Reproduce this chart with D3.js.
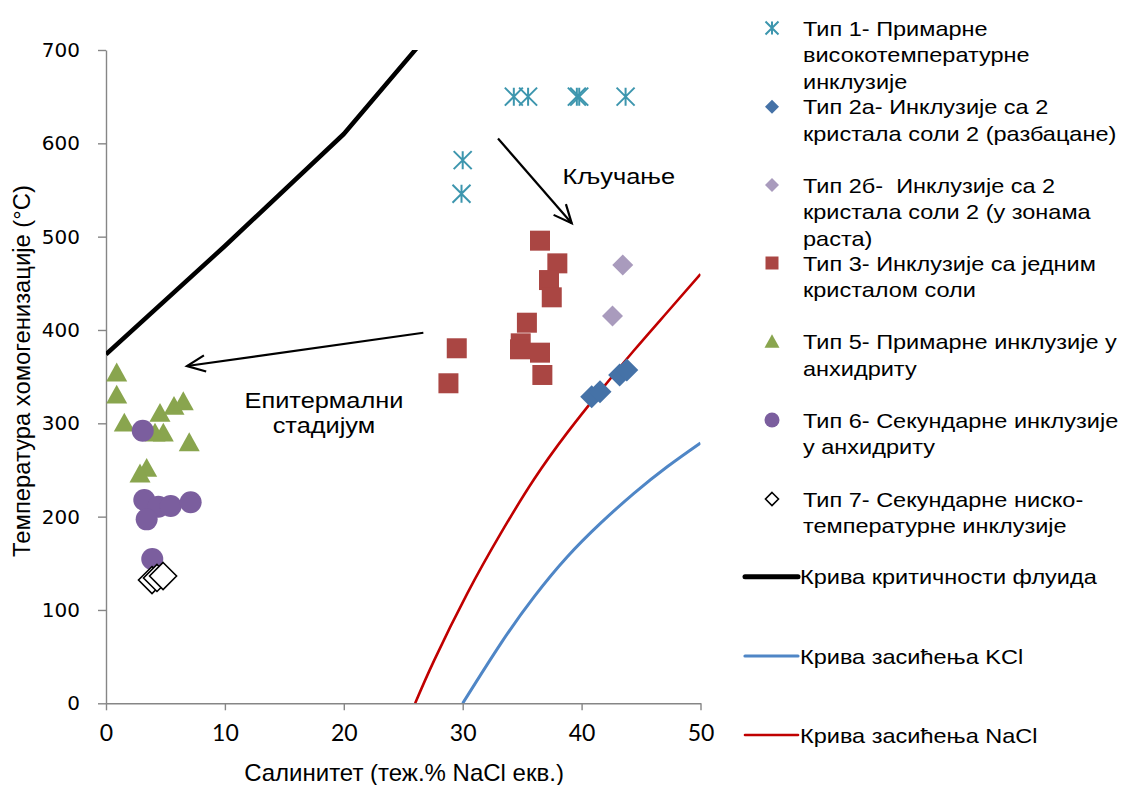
<!DOCTYPE html>
<html><head><meta charset="utf-8">
<script src="https://cdn.jsdelivr.net/npm/d3@7"></script>
<style>body{margin:0;background:#fff}svg{display:block}</style>
</head><body>
<svg id="c" width="1127" height="785"></svg>
<script>
// ---- data ----
const xTicks = [0, 10, 20, 30, 40, 50];
const yTicks = [0, 100, 200, 300, 400, 500, 600, 700];

const type1  = [[34.3,650],[35.5,650],[39.6,650],[39.8,650],[43.7,650],[30.0,582],[29.9,546]];
const type2a = [[40.85,328.5],[41.55,333.9],[43.2,351.8],[43.8,357.1]];
const type2b = [[43.46,469.6],[42.6,415]];
const type3  = [[36.5,495.7],[37.96,471.4],[37.26,453.5],[37.49,435],[35.4,407.8],[34.88,385.7],[34.82,379.3],[36.5,375.7],[36.7,351.8],[29.5,380.4],[28.8,342.9]];
const type5  = [[0.9,353.9],[0.9,330.3],[1.54,300.3],[4.54,310.7],[5.72,318.2],[6.5,323.2],[4.82,289.6],[4.12,289.6],[7.0,279.2],[3.42,251.8],[2.86,245.7]];
const type6  = [[3.09,292.1],[3.22,217.8],[4.4,210.6],[5.44,211.4],[7.12,215.4],[3.42,197.1],[3.89,154.6]];
const type7  = [[3.87,132.1],[4.29,134.3],[4.8,136.4]];

const criticalCurve = [[0,374],[10,490],[20,610],[30,760]];
const kclCurve  = [[30,0],[33.2,64],[36.0,114],[38.8,157],[41.6,193],[44.4,225],[47.2,253.5],[50,279]];
const naclCurve = [[26,0],[27.6,46],[30.4,118],[33.2,182],[36.0,240],[38.8,290],[41.6,335],[44.4,378],[47.2,419],[50,460]];

const xTitle = "Салинитет (теж.% NaCl екв.)";
const yTitle = "Температура хомогенизације (°C)";

const legendItems = [
  {key:"t1", lines:["Тип 1- Примарне","високотемпературне","инклузије"]},
  {key:"t2a", lines:["Тип 2а- Инклузије са 2","кристала соли 2 (разбацане)"]},
  {key:"t2b", lines:["Тип 2б-  Инклузије са 2","кристала соли 2 (у зонама","раста)"]},
  {key:"t3", lines:["Тип 3- Инклузије са једним","кристалом соли"]},
  {key:"t5", lines:["Тип 5- Примарне инклузије у","анхидриту"]},
  {key:"t6", lines:["Тип 6- Секундарне инклузије","у анхидриту"]},
  {key:"t7", lines:["Тип 7- Секундарне ниско-","температурне инклузије"]},
  {key:"crit", lines:["Крива критичности флуида"]},
  {key:"kcl", lines:["Крива засићења KCl"]},
  {key:"nacl", lines:["Крива засићења NaCl"]}
];

// annotations (data units)
const arrowBoil = [[32.97,605.2],[39.17,514.3]];
const arrowEpi  = [[26.69,397],[6.81,361.4]];
const labelBoil = {x:38.4, y:556.4, lines:["Кључање"]};
const labelEpi  = {x:18.33, y:316.3, lines:["Епитермални","стадијум"]};

// ---- styles ----
const C = {
  t1:"#3D96AE", t2a:"#4572A7", t2b:"#A99BBD", t3:"#AA4643",
  t5:"#89A54E", t6:"#7B5E9E", crit:"#000000", kcl:"#4F86C6", nacl:"#C00000", axis:"#868686"
};

const svg = d3.select("#c");
svg.append("rect").attr("width",1127).attr("height",785).attr("fill","#fff");

const x = d3.scaleLinear().domain([0,50]).range([106,700.5]);
const y = d3.scaleLinear().domain([0,700]).range([703.3,50]);

svg.append("clipPath").attr("id","plot").append("rect")
  .attr("x",106).attr("y",50).attr("width",594.5).attr("height",653.3);

// axes
const yAxis = svg.append("g").attr("transform","translate(106,0)")
  .call(d3.axisLeft(y).tickValues(yTicks).tickSize(8).tickSizeOuter(0).tickPadding(18));
yAxis.selectAll("text").attr("font-family","DejaVu Sans").attr("font-size",20).attr("fill","#000");
const xAxis = svg.append("g").attr("transform","translate(0,703.3)")
  .call(d3.axisBottom(x).tickValues(xTicks).tickSize(7).tickSizeOuter(0).tickPadding(14));
xAxis.selectAll("text").attr("font-family","Lato, 'Open Sans'").attr("font-size",23).attr("fill","#000");
svg.selectAll(".domain, .tick line").attr("stroke",C.axis).attr("stroke-width",1.4);

// axis titles
svg.append("text").attr("x",404).attr("y",781).attr("text-anchor","middle")
  .attr("font-family","'Liberation Sans Narrow', 'Liberation Sans'").attr("font-size",24).text(xTitle);
svg.append("text").attr("transform","translate(30,371) rotate(-90)").attr("text-anchor","middle")
  .attr("font-family","'Liberation Sans'").attr("font-size",23.8).text(yTitle);

// curves
const line = d3.line().x(d=>x(d[0])).y(d=>y(d[1]));
const curveLine = d3.line().x(d=>x(d[0])).y(d=>y(d[1])).curve(d3.curveNatural);
const plot = svg.append("g").attr("clip-path","url(#plot)");
plot.append("path").attr("d",line(criticalCurve)).attr("fill","none").attr("stroke",C.crit).attr("stroke-width",4.5).attr("stroke-linejoin","round");
plot.append("path").attr("d",curveLine(kclCurve)).attr("fill","none").attr("stroke",C.kcl).attr("stroke-width",3);
plot.append("path").attr("d",curveLine(naclCurve)).attr("fill","none").attr("stroke",C.nacl).attr("stroke-width",2.6);

// marker generators
function asterisk(s){ const h=s/2;
  return `M0,${-h}L0,${h}M${-h},${-h}L${h},${h}M${-h},${h}L${h},${-h}`; }
function diamond(d){ const h=d/2; return `M0,${-h}L${h},0L0,${h}L${-h},0Z`; }
function square(s){ const h=s/2; return `M${-h},${-h}H${h}V${h}H${-h}Z`; }
function triangle(w){ const h=w*0.9; return `M0,${-h*0.55}L${w/2},${h*0.45}L${-w/2},${h*0.45}Z`; }

const markers = {
  t1:  (g,s)=>g.append("path").attr("d",asterisk(s)).attr("stroke",C.t1).attr("stroke-width",2).attr("fill","none"),
  t2a: (g,s)=>g.append("path").attr("d",diamond(s)).attr("fill",C.t2a),
  t2b: (g,s)=>g.append("path").attr("d",diamond(s)).attr("fill",C.t2b),
  t3:  (g,s)=>g.append("path").attr("d",square(s)).attr("fill",C.t3),
  t5:  (g,s)=>g.append("path").attr("d",triangle(s)).attr("fill",C.t5),
  t6:  (g,s)=>g.append("circle").attr("r",s/2).attr("fill",C.t6),
  t7:  (g,s)=>g.append("path").attr("d",diamond(s)).attr("fill","#fff").attr("stroke","#000").attr("stroke-width",1.6)
};

function drawSeries(data,key,size){
  data.forEach(d=>{
    const g = svg.append("g").attr("transform",`translate(${x(d[0])},${y(d[1])})`);
    markers[key](g,size);
  });
}
drawSeries(type1,"t1",18);
drawSeries(type2b,"t2b",21);
drawSeries(type3,"t3",20);
drawSeries(type5,"t5",21);
drawSeries(type6,"t6",22);
drawSeries(type2a,"t2a",23);
drawSeries(type7,"t7",27);

// annotations
function arrow(pts){
  const [a,b]=pts.map(p=>[x(p[0]),y(p[1])]);
  const ang=Math.atan2(b[1]-a[1],b[0]-a[0]), L=20, sp=0.42;
  svg.append("line").attr("x1",a[0]).attr("y1",a[1]).attr("x2",b[0]).attr("y2",b[1]).attr("stroke","#000").attr("stroke-width",2.2);
  const p1=[b[0]-L*Math.cos(ang-sp), b[1]-L*Math.sin(ang-sp)];
  const p2=[b[0]-L*Math.cos(ang+sp), b[1]-L*Math.sin(ang+sp)];
  svg.append("path").attr("d",`M${p1}L${b}L${p2}`).attr("fill","none").attr("stroke","#000").attr("stroke-width",2.2).attr("stroke-linejoin","miter");
}
arrow(arrowBoil); arrow(arrowEpi);
function annText(px,py,t,anchor){
  svg.append("text").attr("transform",`translate(${px},${py}) scale(1.18,1)`).attr("text-anchor",anchor)
    .attr("font-family","'Liberation Sans', Arial").attr("font-size",21.5).text(t);
}
annText(x(labelBoil.x), y(labelBoil.y), labelBoil.lines[0], "start");
labelEpi.lines.forEach((t,i)=>annText(x(labelEpi.x), y(labelEpi.y)+i*24.6, t, "middle"));

// legend
const legY = {t1:28,t2a:106.7,t2b:185,t3:263,t5:341.7,t6:420,t7:499,crit:576.7,kcl:656,nacl:735};
const legMarkSize = {t1:13,t2a:14,t2b:14,t3:13,t5:15,t6:15,t7:13};
const legLine = {crit:[C.crit,5],kcl:[C.kcl,3.2],nacl:[C.nacl,2.6]};
legendItems.forEach(it=>{
  const cy = legY[it.key];
  if (markers[it.key]) {
    const g = svg.append("g").attr("transform",`translate(772,${cy})`);
    markers[it.key](g, legMarkSize[it.key]);
  } else {
    svg.append("line").attr("x1",745).attr("x2",798).attr("y1",cy).attr("y2",cy)
      .attr("stroke",legLine[it.key][0]).attr("stroke-width",legLine[it.key][1]).attr("stroke-linecap","round");
  }
  const tx = markers[it.key] ? 803 : 800;
  it.lines.forEach((t,i)=>{
    svg.append("text").attr("transform",`translate(${tx},${cy+7.6+i*26.6}) scale(1.12,1)`)
      .attr("font-family","'Liberation Sans', Arial").attr("font-size",21).style("white-space","pre").text(t);
  });
});
</script>
</body></html>
